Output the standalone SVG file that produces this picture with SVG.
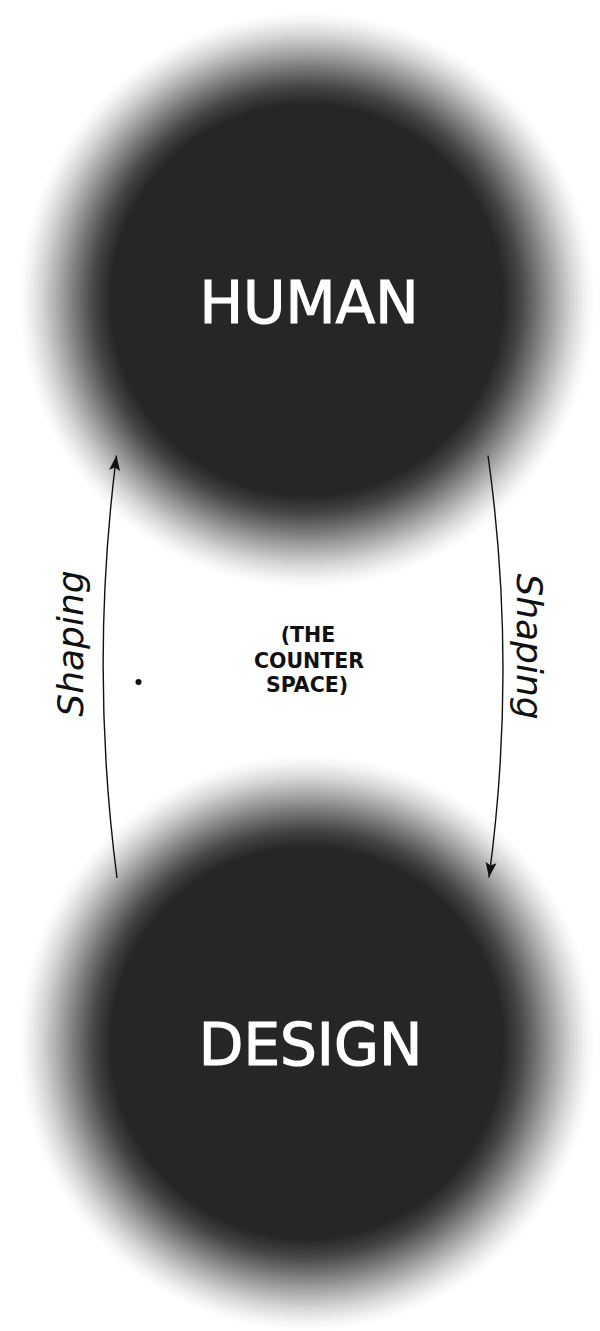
<svg xmlns="http://www.w3.org/2000/svg" width="600" height="1331" viewBox="0 0 600 1331">
  <style>
    .big { font-family: "DejaVu Sans", sans-serif; font-size: 58px; fill: #ffffff; stroke: #ffffff; stroke-width: 1.2; text-anchor: middle; }
    .lbl { font-family: "DejaVu Sans", sans-serif; font-size: 36px; font-style: italic; fill: #111111; text-anchor: middle; }
    .ctr { font-family: "DejaVu Sans", sans-serif; font-size: 20.5px; font-weight: bold; fill: #111111; text-anchor: middle; }
    .conn { fill: none; stroke: #111111; stroke-width: 1.4; }
  </style>
  <defs>
    <radialGradient id="glow" cx="50%" cy="50%" r="50%">
      <stop offset="0" stop-color="#262626" stop-opacity="1"/>
      <stop offset="0.68" stop-color="#262626" stop-opacity="1"/>
      <stop offset="0.74" stop-color="#262626" stop-opacity="0.86"/>
      <stop offset="0.80" stop-color="#262626" stop-opacity="0.64"/>
      <stop offset="0.86" stop-color="#262626" stop-opacity="0.41"/>
      <stop offset="0.92" stop-color="#262626" stop-opacity="0.19"/>
      <stop offset="0.97" stop-color="#262626" stop-opacity="0.05"/>
      <stop offset="1" stop-color="#262626" stop-opacity="0"/>
    </radialGradient>
    <marker id="arrow" viewBox="0 0 16 12" refX="15" refY="6" markerWidth="16" markerHeight="12" markerUnits="userSpaceOnUse" orient="auto">
      <path d="M0,0.5 L15,6 L0,11.5 L3,6 Z" fill="#111111"/>
    </marker>
  </defs>
  <rect x="0" y="0" width="600" height="1331" fill="#ffffff"/>

  <g id="human">
    <circle cx="307" cy="300" r="288" fill="url(#glow)"/>
    <text class="big" x="309" y="322.5">HUMAN</text>
  </g>

  <g id="design">
    <circle cx="307" cy="1043" r="288" fill="url(#glow)"/>
    <text class="big" x="310.5" y="1064.5" font-size="57">DESIGN</text>
  </g>

  <g id="counter-space">
    <circle cx="138.5" cy="682" r="3" fill="#111111"/>
    <text class="ctr" x="308" y="642">(THE</text>
    <text class="ctr" x="309" y="667.5">COUNTER</text>
    <text class="ctr" x="307" y="692">SPACE)</text>
  </g>

  <g id="connectors">
    <path class="conn" d="M117,878 Q89.5,666 116.5,455.5" marker-end="url(#arrow)"/>
    <path class="conn" d="M488,455.5 Q517.5,666 489,877.5" marker-end="url(#arrow)"/>
  </g>

  <g id="labels">
    <text class="lbl" transform="translate(83,643.5) rotate(-90)">Shaping</text>
    <text class="lbl" transform="translate(517,646.5) rotate(90)">Shaping</text>
  </g>
</svg>
